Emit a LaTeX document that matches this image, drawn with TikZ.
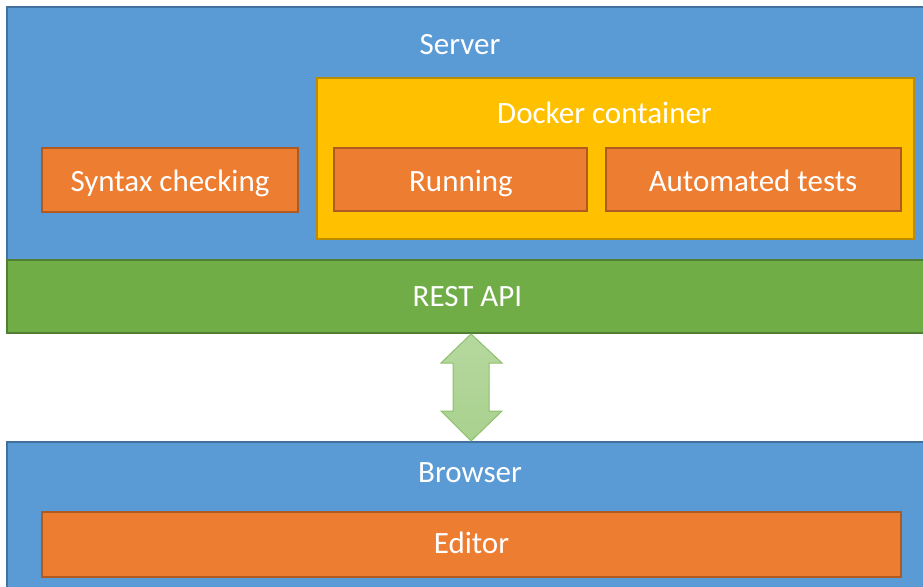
\documentclass[tikz,border=0pt]{standalone}
\usepackage{fontspec}
\setmainfont{Carlito}
\definecolor{bfill}{HTML}{5B9BD5}
\definecolor{bdraw}{HTML}{41719C}
\definecolor{ofill}{HTML}{ED7D31}
\definecolor{odraw}{HTML}{AE5A21}
\definecolor{yfill}{HTML}{FFC000}
\definecolor{ydraw}{HTML}{BC8C00}
\definecolor{gfill}{HTML}{70AD47}
\definecolor{gdraw}{HTML}{507E32}
\definecolor{afill}{HTML}{A9D18E}
\definecolor{adraw}{HTML}{8CC06C}
\begin{document}
\begin{tikzpicture}[x=1pt,y=-1pt,
  bluebox/.style={fill=bfill,draw=bdraw,line width=1.2pt},
  orangebox/.style={fill=ofill,draw=odraw,line width=1.2pt},
  yellowbox/.style={fill=yfill,draw=ydraw,line width=1.2pt},
  greenbox/.style={fill=gfill,draw=gdraw,line width=1.2pt},
  lbl/.style={text=white,font=\fontsize{31}{34}\selectfont,inner sep=0pt,anchor=base}]
\useasboundingbox (0,0) rectangle (923,586);
\path[bluebox] (7,7) rectangle (930,260);
\path[greenbox] (7,260) rectangle (930,333);
\path[yellowbox] (317,78) rectangle (914,239);
\path[orangebox] (42,148) rectangle (298,212);
\path[orangebox] (334,148) rectangle (587,211);
\path[orangebox] (606,148) rectangle (901,211);
\path[bluebox] (7,442) rectangle (930,600);
\path[orangebox] (42,512) rectangle (901,577);
\node[lbl] (server) at (460,54.3) {Server};
\node[lbl] (docker) at (604.5,123.3) {Docker container};
\node[lbl] (syntax) at (170,191) {Syntax checking};
\node[lbl] (running) at (461,191) {Running};
\node[lbl] (tests) at (753,191) {Automated tests};
\node[lbl] (rest) at (467.5,306.7) {REST API};
\node[lbl] (browser) at (470,482.3) {Browser};
\node[lbl] (editor) at (471.5,553.3) {Editor};
\path[draw=adraw,line width=1pt,top color=afill!85!white,bottom color=afill]
  (471,334) -- (502,363) -- (489,363) -- (489,411) -- (502,411) -- (471,441)
  -- (441,411) -- (453,411) -- (453,363) -- (441,363) -- cycle;
\end{tikzpicture}
\end{document}
